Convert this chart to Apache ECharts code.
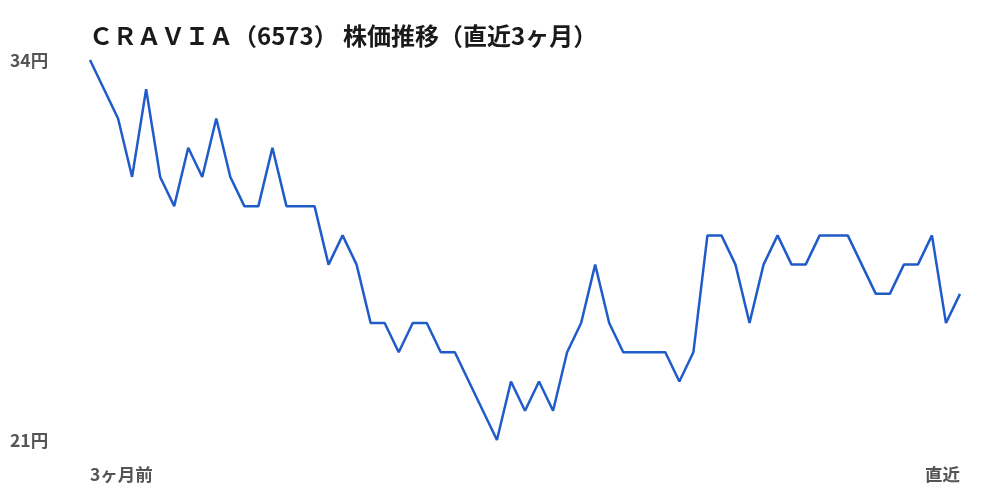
<!DOCTYPE html>
<html>
<head>
<meta charset="utf-8">
<script src="https://cdn.jsdelivr.net/npm/echarts@6/dist/echarts.min.js"></script>
<style>
html,body{margin:0;padding:0;background:#fff;}
#chart{width:1000px;height:500px;}
</style>
</head>
<body>
<div id="chart"></div>
<script>
var titleText = 'ＣＲＡＶＩＡ（6573） 株価推移（直近3ヶ月）';
var prices = [34,33,32,30,33,30,29,31,30,32,30,29,29,31,29,29,29,27,28,27,
  25,25,24,25,25,24,24,23,22,21,23,22,23,22,24,25,27,25,24,24,
  24,24,23,24,28,28,27,25,27,28,27,27,28,28,28,27,26,26,27,27,
  28,25,26];
var startLabel = '3ヶ月前';
var endLabel = '直近';
var yMin = 21;
var yMax = 34;

var categories = prices.map(function(v, i){
  if (i === 0) return startLabel;
  if (i === prices.length - 1) return endLabel;
  return '';
});

var font = '"Noto Sans CJK JP", "Noto Sans", sans-serif';
var chart = echarts.init(document.getElementById('chart'));
chart.setOption({
  animation: false,
  backgroundColor: '#fff',
  title: {
    text: titleText,
    left: 84,
    top: 19,
    textStyle: {fontFamily: font, fontSize: 24, fontWeight: 'bold', color: '#1a1a1a'}
  },
  grid: {left: 90, right: 40, top: 60, bottom: 60, containLabel: false},
  xAxis: {
    type: 'category',
    data: categories,
    boundaryGap: false,
    axisLine: {show: false},
    axisTick: {show: false},
    splitLine: {show: false},
    axisLabel: {
      interval: 0,
      margin: 26,
      alignMinLabel: 'left',
      alignMaxLabel: 'right',
      fontFamily: font, fontSize: 17.5, fontWeight: 'bold', color: '#555'
    }
  },
  yAxis: {
    type: 'value',
    min: yMin,
    max: yMax,
    interval: yMax - yMin,
    axisLine: {show: false},
    axisTick: {show: false},
    splitLine: {show: false},
    axisLabel: {
      formatter: '{value}円',
      align: 'left',
      margin: 80,
      fontFamily: font, fontSize: 17.5, fontWeight: 'bold', color: '#555'
    }
  },
  series: [{
    type: 'line',
    data: prices,
    symbol: 'none',
    lineStyle: {color: '#1f5bc9', width: 2.5},
    itemStyle: {color: '#1f5bc9'}
  }]
});
</script>
</body>
</html>
